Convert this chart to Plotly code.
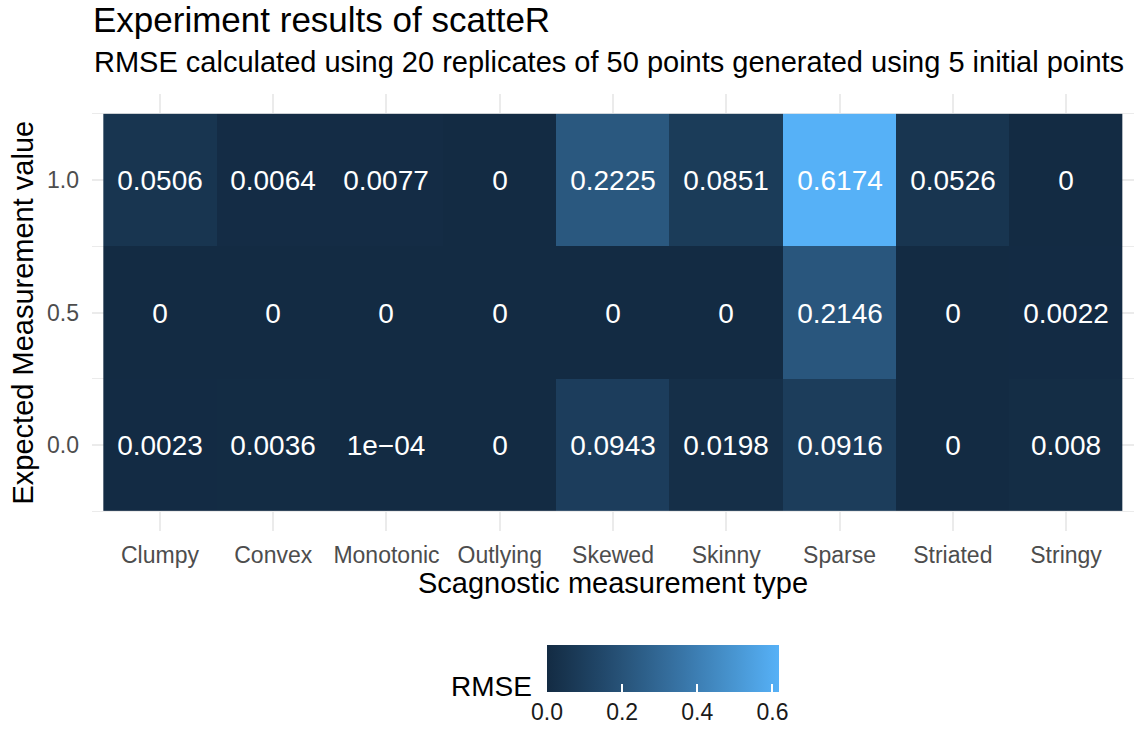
import plotly.graph_objects as go

categories = ["Clumpy", "Convex", "Monotonic", "Outlying", "Skewed", "Skinny", "Sparse", "Striated", "Stringy"]
expected = [0.0, 0.5, 1.0]
rmse_00 = [0.0023, 0.0036, 0.0001, 0, 0.0943, 0.0198, 0.0916, 0, 0.008]
rmse_05 = [0, 0, 0, 0, 0, 0, 0.2146, 0, 0.0022]
rmse_10 = [0.0506, 0.0064, 0.0077, 0, 0.2225, 0.0851, 0.6174, 0.0526, 0]
labels_00 = ["0.0023", "0.0036", "1e\u221204", "0", "0.0943", "0.0198", "0.0916", "0", "0.008"]
labels_05 = ["0", "0", "0", "0", "0", "0", "0.2146", "0", "0.0022"]
labels_10 = ["0.0506", "0.0064", "0.0077", "0", "0.2225", "0.0851", "0.6174", "0.0526", "0"]
cbar_ticks = [0.0, 0.2, 0.4, 0.6]

# ggplot default gradient (#132B43 -> #56B1F7) interpolated in CIELAB
def _lin(c):
    c = c / 255
    return c / 12.92 if c <= 0.04045 else ((c + 0.055) / 1.055) ** 2.4

def _unlin(c):
    c = 12.92 * c if c <= 0.0031308 else 1.055 * c ** (1 / 2.4) - 0.055
    return max(0, min(255, round(c * 255)))

WX, WY, WZ = 0.95047, 1.0, 1.08883

def _f(t):
    return t ** (1 / 3) if t > 0.008856 else 7.787 * t + 16 / 116

def _finv(t):
    return t ** 3 if t ** 3 > 0.008856 else (t - 16 / 116) / 7.787

def hex2lab(h):
    r, g, b = [_lin(int(h[i:i + 2], 16)) for i in (1, 3, 5)]
    X = 0.4124 * r + 0.3576 * g + 0.1805 * b
    Y = 0.2126 * r + 0.7152 * g + 0.0722 * b
    Z = 0.0193 * r + 0.1192 * g + 0.9505 * b
    fx, fy, fz = _f(X / WX), _f(Y / WY), _f(Z / WZ)
    return 116 * fy - 16, 500 * (fx - fy), 200 * (fy - fz)

def lab2hex(L, a, b):
    fy = (L + 16) / 116
    fx = fy + a / 500
    fz = fy - b / 200
    X, Y, Z = WX * _finv(fx), WY * _finv(fy), WZ * _finv(fz)
    r = 3.2406 * X - 1.5372 * Y - 0.4986 * Z
    g = -0.9689 * X + 1.8758 * Y + 0.0415 * Z
    bb = 0.0557 * X - 0.2040 * Y + 1.0570 * Z
    return "#%02x%02x%02x" % (_unlin(r), _unlin(g), _unlin(bb))

lo, hi = hex2lab("#132B43"), hex2lab("#56B1F7")
n = 12
colorscale = []
for i in range(n + 1):
    t = i / n
    colorscale.append([t, lab2hex(*[lo[k] + (hi[k] - lo[k]) * t for k in range(3)])])

z = [rmse_00, rmse_05, rmse_10]
text = [labels_00, labels_05, labels_10]
zmax = max(max(r) for r in z)

FONT = "Liberation Sans, Arial, Helvetica, sans-serif"

# panel geometry (px)
W, H = 1141, 731
L, R, T, B = 92, 7, 94, 200
PW, PH = W - L - R, H - T - B

def px_x(x):
    return (x - L) / PW

def px_y(y):
    return (H - B - y) / PH

fig = go.Figure(go.Heatmap(
    x=categories, y=expected, z=z, text=text, texttemplate="%{text}",
    textfont=dict(color="white", size=28, family=FONT),
    colorscale=colorscale, zmin=0, zmax=zmax,
    colorbar=dict(
        orientation="h", thickness=47, thicknessmode="pixels",
        len=232, lenmode="pixels",
        x=px_x(663), xanchor="center",
        yref="container", y=(H - 645) / H, yanchor="top",
        xpad=0, ypad=0, outlinewidth=0,
        tickvals=cbar_ticks, ticktext=["%.1f" % v for v in cbar_ticks],
        ticks="inside", tickcolor="white", ticklen=8, tickwidth=1.5,
        tickfont=dict(size=23, color="#1a1a1a", family=FONT),
    ),
))

fig.update_layout(
    width=W, height=H, template="none",
    margin=dict(l=L, r=R, t=T, b=B, pad=0, autoexpand=False),
    paper_bgcolor="white", plot_bgcolor="white",
    font=dict(family=FONT, color="black"),
    showlegend=False,
    xaxis=dict(
        range=[-0.6, 8.6], showgrid=True, gridcolor="#EBEBEB", gridwidth=2,
        zeroline=False, showline=False, ticks="", automargin=False,
        ticklabelstandoff=8,
        tickfont=dict(size=23, color="#4D4D4D"),
    ),
    yaxis=dict(
        range=[-0.325, 1.325], tick0=0, dtick=0.5, tickformat=".1f",
        showgrid=True, gridcolor="#EBEBEB", gridwidth=2,
        minor=dict(dtick=0.25, showgrid=True, gridcolor="#EBEBEB", gridwidth=1),
        zeroline=False, showline=False, ticks="", automargin=False,
        ticklabelstandoff=12,
        tickfont=dict(size=23, color="#4D4D4D"),
    ),
    annotations=[
        dict(text="Experiment results of scatteR", xref="paper", yref="paper",
             x=0, y=px_y(19.5), xanchor="left", yanchor="middle", showarrow=False,
             borderpad=0, font=dict(size=35, color="black")),
        dict(text="RMSE calculated using 20 replicates of 50 points generated using 5 initial points",
             xref="paper", yref="paper", x=0, y=px_y(62), xanchor="left", yanchor="middle",
             showarrow=False, font=dict(size=29, color="black")),
        dict(text="Scagnostic measurement type", xref="paper", yref="paper",
             x=0.5, y=px_y(583), xanchor="center", yanchor="middle", showarrow=False,
             font=dict(size=29, color="black")),
        dict(text="Expected Measurement value", xref="paper", yref="paper",
             x=px_x(22), y=0.5, xanchor="center", yanchor="middle", showarrow=False,
             textangle=-90, font=dict(size=29, color="black")),
        dict(text="RMSE", xref="paper", yref="paper", x=px_x(491), y=px_y(686),
             xanchor="center", yanchor="middle", showarrow=False,
             font=dict(size=28, color="black")),
    ],
)

fig.write_html("out.html", config={"displayModeBar": False},
               post_script="document.body.style.margin='0px';")
